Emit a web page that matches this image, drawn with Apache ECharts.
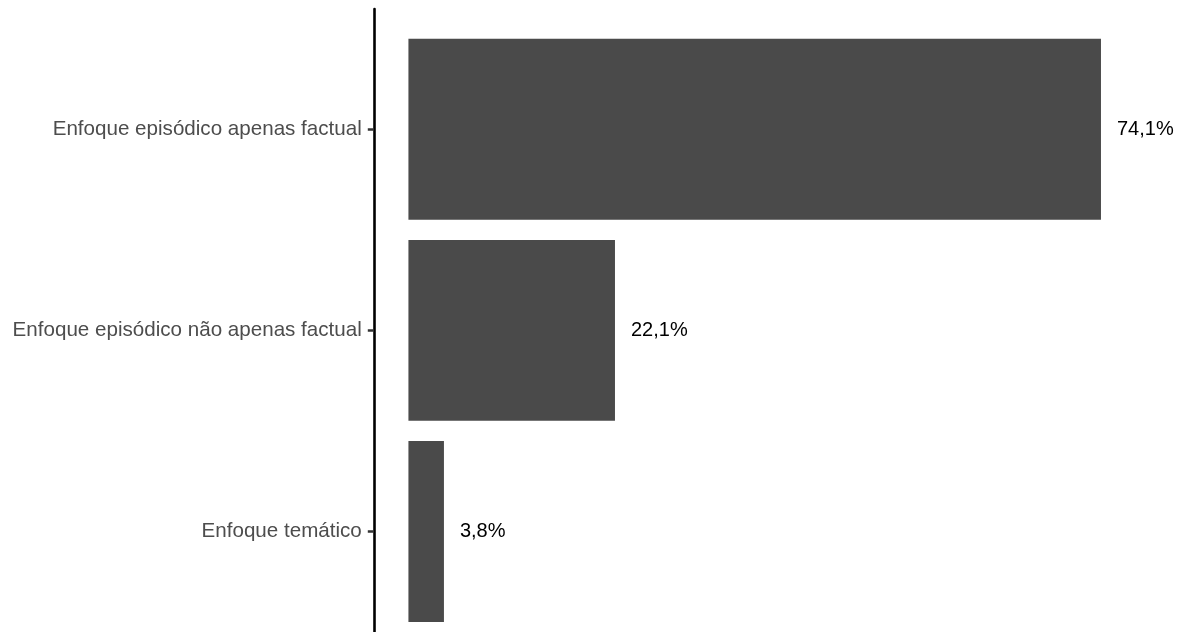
<!DOCTYPE html>
<html>
<head>
<meta charset="utf-8">
<script src="https://cdn.jsdelivr.net/npm/echarts@6/dist/echarts.min.js"></script>
<style>
  html, body { margin: 0; padding: 0; background: #ffffff; }
  #chart { width: 1180px; height: 632px; }
</style>
</head>
<body>
<div id="chart"></div>
<script>
// Categories, top to bottom
const categories = [
  'Enfoque episódico apenas factual',
  'Enfoque episódico não apenas factual',
  'Enfoque temático'
];
// Share of items in each framing (%)
const shares = [74.1, 22.1, 3.8];

// Continuous axis padded by 5% of the data range on each side
const maxShare = Math.max(...shares);
const pad = maxShare * 0.05;

const chart = echarts.init(document.getElementById('chart'), null, { renderer: 'canvas' });

const fmt = v => v.toFixed(1).replace('.', ',') + '%';

chart.setOption({
  animation: false,
  backgroundColor: '#ffffff',
  grid: [
    { left: 373.8, right: 44.4, top: 28.75, bottom: -1.25, containLabel: false },
    // full-height panel used only for the left axis rule
    { left: 373.8, right: 44.4, top: 9, bottom: -20, containLabel: false }
  ],
  xAxis: [
    {
      gridIndex: 0,
      type: 'value',
      min: -pad,
      max: maxShare + pad,
      show: false
    },
    { gridIndex: 1, type: 'value', min: 0, max: 1, show: false }
  ],
  yAxis: [
    {
      gridIndex: 0,
      type: 'category',
      inverse: true,
      data: categories,
      axisLine: { show: false, onZero: false },
      axisTick: {
        show: true,
        alignWithLabel: true,
        length: 6,
        lineStyle: { color: '#333333', width: 2.5 }
      },
      axisLabel: {
        margin: 12,
        color: '#4d4d4d',
        fontSize: 20.6,
        fontFamily: 'Liberation Sans, Arial, sans-serif'
      },
      splitLine: { show: false }
    },
    {
      gridIndex: 1,
      type: 'value',
      min: 0,
      max: 1,
      axisLine: { show: true, onZero: false, lineStyle: { color: '#000000', width: 2.6 } },
      axisTick: { show: false },
      axisLabel: { show: false },
      splitLine: { show: false }
    }
  ],
  series: [
    {
      type: 'bar',
      xAxisIndex: 0,
      yAxisIndex: 0,
      data: shares,
      barWidth: '90%',
      itemStyle: { color: '#4a4a4a' },
      label: {
        show: true,
        position: 'right',
        distance: 16,
        color: '#000000',
        fontSize: 20,
        fontFamily: 'Liberation Sans Narrow, Arial Narrow, Liberation Sans, sans-serif',
        formatter: p => fmt(p.value)
      }
    }
  ]
});
</script>
</body>
</html>
